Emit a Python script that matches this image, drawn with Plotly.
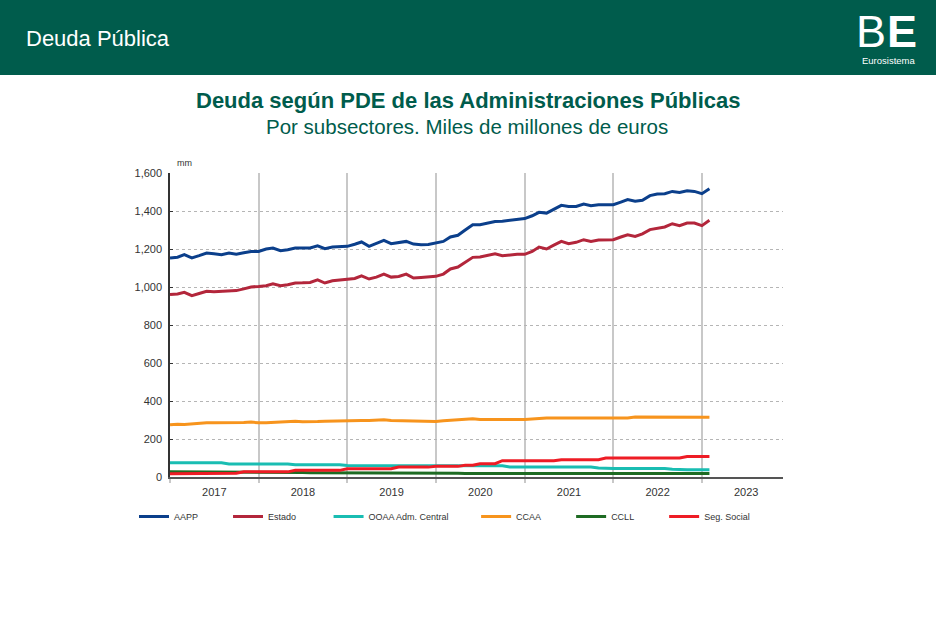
import plotly.graph_objects as go
import pandas as pd

# ---------------- data (miles de millones de euros), Jan 2017 - Feb 2023 ----------------
months = pd.date_range("2017-01-01", "2023-02-01", freq="MS")

aapp = [1153, 1157, 1170, 1153, 1165, 1179, 1175, 1170, 1179, 1173, 1180, 1187,
        1187, 1200, 1205, 1191, 1196, 1205, 1205, 1205, 1217, 1202, 1210, 1212,
        1214, 1225, 1237, 1214, 1228, 1245, 1228, 1235, 1240, 1226, 1222, 1224,
        1233, 1240, 1263, 1272, 1300, 1328, 1328, 1338, 1345, 1346, 1351, 1352,
        1360, 1375, 1393, 1389, 1408, 1430, 1424, 1424, 1437, 1428, 1433, 1433,
        1433, 1447, 1460, 1451, 1456, 1481, 1489, 1491, 1503, 1498, 1507, 1503,
        1491, 1517]

estado = [960, 963, 972, 954, 966, 977, 975, 976, 979, 981, 990, 1000,
          1003, 1007, 1017, 1007, 1012, 1021, 1022, 1024, 1038, 1021, 1033, 1038,
          1040, 1045, 1059, 1042, 1052, 1068, 1052, 1055, 1068, 1047, 1050, 1052,
          1056, 1068, 1095, 1105, 1130, 1156, 1158, 1165, 1175, 1165, 1170, 1172,
          1172, 1187, 1210, 1200, 1220, 1240, 1228, 1235, 1249, 1240, 1247, 1249,
          1249, 1263, 1275, 1266, 1280, 1302, 1310, 1316, 1333, 1323, 1337, 1337,
          1323, 1351]

ooaa = [75, 75, 75, 75, 75, 75, 75, 75, 69, 69, 69, 69,
        69, 69, 69, 69, 69, 65, 65, 65, 65, 65, 65, 65,
        60, 60, 60, 60, 60, 60, 60, 60, 57, 57, 57, 57,
        57, 57, 57, 57, 59, 59, 59, 59, 59, 59, 53, 53,
        53, 53, 53, 53, 53, 53, 53, 53, 53, 53, 48, 45,
        45, 45, 45, 45, 45, 45, 45, 45, 41, 38, 38, 38,
        38, 38]

ccaa = [275, 278, 276, 280, 284, 285, 285, 285, 286, 286, 287, 289,
        285, 286, 288, 289, 290, 293, 291, 290, 292, 294, 294, 295,
        296, 296, 297, 298, 299, 301, 298, 297, 297, 296, 295, 293,
        292, 296, 298, 302, 305, 307, 303, 302, 302, 302, 302, 302,
        302, 305, 309, 310, 310, 310, 310, 310, 310, 310, 310, 310,
        310, 311, 311, 316, 316, 316, 316, 316, 316, 316, 315, 315,
        315, 315]

ccll = [27, 27, 27, 27, 27, 26, 26, 26, 26, 26, 26, 25,
        25, 25, 25, 24, 24, 24, 24, 23, 23, 23, 23, 22,
        22, 22, 22, 22, 21, 21, 21, 21, 21, 20, 20, 20,
        20, 20, 20, 20, 19, 19, 19, 19, 19, 19, 19, 19,
        19, 19, 19, 19, 19, 18, 18, 18, 18, 18, 18, 18,
        18, 18, 18, 18, 18, 18, 18, 18, 18, 18, 18, 18,
        18, 18]

segsoc = [17, 17, 17, 17, 17, 17, 20, 20, 20, 20, 27, 27,
          27, 27, 27, 27, 27, 35, 35, 35, 35, 35, 35, 35,
          43, 43, 43, 43, 43, 43, 43, 52, 52, 52, 52, 52,
          56, 56, 56, 56, 62, 62, 70, 70, 70, 86, 86, 86,
          86, 86, 86, 86, 86, 91, 91, 91, 91, 91, 91, 100,
          100, 100, 100, 100, 100, 100, 100, 100, 100, 100, 108, 108,
          108, 108]

names = ["AAPP", "Estado", "OOAA Adm. Central", "CCAA", "CCLL", "Seg. Social"]
series = [aapp, estado, ooaa, ccaa, ccll, segsoc]
colors = ["#0b3f8b", "#b3263b", "#19bdb2", "#f7941d", "#1e6b23", "#ee1c25"]
legend_pad = [10, 11, 9, 10, 10, 0]

y_ticks = [0, 200, 400, 600, 800, 1000, 1200, 1400, 1600]

# ---------------- geometry helpers ----------------
W, H = 936, 624
L, R, T, B = 170, 153, 173, 147
PW, PH = W - L - R, H - T - B


def px(x):
    return (x - L) / PW


def py(y):
    return (H - B - y) / PH


GREEN = "#005c4c"
FONT = "Liberation Sans"

fig = go.Figure()
for n, s, c, p in zip(names, series, colors, legend_pad):
    fig.add_trace(go.Scatter(
        x=months, y=s, mode="lines", name=n + "\u00a0" * p,
        line=dict(color=c, width=3),
    ))

fig.update_layout(
    width=W, height=H,
    margin=dict(l=L, r=R, t=T, b=B),
    paper_bgcolor="white", plot_bgcolor="white",
    font=dict(family=FONT, color="#333333", size=11),
    showlegend=True,
    legend=dict(orientation="h", x=px(134), y=py(502), xanchor="left", yanchor="top",
                font=dict(size=9, color="#333333"), itemwidth=30,
                bgcolor="rgba(0,0,0,0)", traceorder="normal"),
    xaxis=dict(
        type="date", range=["2017-01-01", "2023-12-01"],
        tick0="2017-01-01", dtick="M12", tickformat="%Y", ticklabelmode="period",
        showgrid=True, gridcolor="#c8c8c8", gridwidth=1.5,
        showline=True, linecolor="#555555", linewidth=1.5,
        ticks="outside", ticklen=4, tickcolor="#c8c8c8", tickwidth=1.5,
        tickfont=dict(size=11, color="#333333"), zeroline=False,
    ),
    yaxis=dict(
        range=[0, 1600], tickvals=y_ticks, tickformat=",",
        showgrid=True, gridcolor="#b5b5b5", gridwidth=1, griddash="3px,3px",
        showline=True, linecolor="#333333", linewidth=1.5,
        ticks="inside", ticklen=3, tickcolor="#333333", ticklabelstandoff=4,
        tickfont=dict(size=11, color="#333333"), zeroline=False,
    ),
)

# header band
fig.add_shape(type="rect", xref="paper", yref="paper",
              x0=px(-5), x1=px(W + 5), y0=py(75), y1=py(-5),
              fillcolor=GREEN, line=dict(width=0), layer="above")

ann = [
    dict(text="Deuda Pública", x=px(24), y=py(38), xanchor="left", yanchor="middle",
         font=dict(size=22, color="white", family=FONT)),
    dict(text="B", x=px(888), y=py(32), xanchor="right", yanchor="middle",
         font=dict(size=45, color="white", family=FONT)),
    dict(text="E", x=px(919), y=py(32), xanchor="right", yanchor="middle",
         font=dict(size=45, color="white", family=FONT, weight="bold")),
    dict(text="Eurosistema", x=px(918), y=py(61), xanchor="right", yanchor="middle",
         font=dict(size=9.5, color="white", family=FONT)),
    dict(text="<b>Deuda según PDE de las Administraciones Públicas</b>", x=px(468), y=py(100),
         xanchor="center", yanchor="middle", font=dict(size=22, color=GREEN, family=FONT)),
    dict(text="Por subsectores. Miles de millones de euros", x=px(467), y=py(126),
         xanchor="center", yanchor="middle", font=dict(size=20.5, color=GREEN, family=FONT)),
    dict(text="mm", x=px(175), y=py(163), xanchor="left", yanchor="middle",
         font=dict(size=9, color="#333333", family=FONT)),
]
for a in ann:
    fig.add_annotation(xref="paper", yref="paper", showarrow=False, **a)

fig.write_html("out.html", config={"displayModeBar": False},
               post_script="document.body.style.margin='0';")
